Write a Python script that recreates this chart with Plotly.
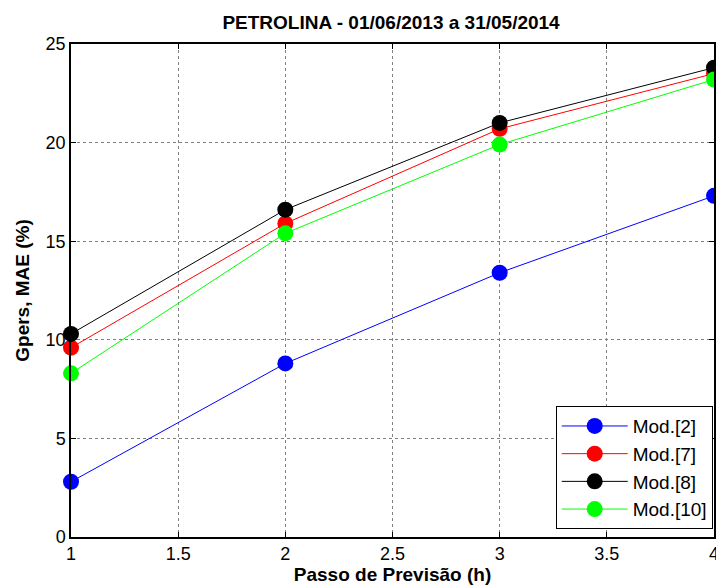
import plotly.graph_objects as go

# Forecast step (h)
passo = [1, 2, 3, 4]

# MAE (%) per model
mod2 = [2.8, 8.8, 13.4, 17.3]
mod7 = [9.6, 15.9, 20.7, 23.5]
mod8 = [10.3, 16.6, 21.0, 23.8]
mod10 = [8.3, 15.4, 19.9, 23.2]

series = [
    ("Mod.[2]", mod2, "#0000ff"),
    ("Mod.[7]", mod7, "#ff0000"),
    ("Mod.[8]", mod8, "#000000"),
    ("Mod.[10]", mod10, "#00ff00"),
]

fig = go.Figure()
for name, vals, color in series:
    fig.add_trace(go.Scatter(
        x=passo, y=vals, name=name, mode="lines+markers",
        line=dict(color=color, width=1),
        marker=dict(color=color, size=16),
        cliponaxis=False,
    ))

axis_style = dict(
    showline=True, mirror="ticks", linecolor="black", linewidth=1.5,
    ticks="inside", ticklen=5, tickcolor="black",
    showgrid=True, gridcolor="#808080", griddash="dot", gridwidth=1,
    zeroline=False, tickfont=dict(size=18, color="black"),
    automargin=False,
)

# page body has an 8px margin, so the figure is a bit smaller than the window
fig.update_layout(
    width=716, height=578,
    margin=dict(l=63, r=10, t=36, b=49),
    paper_bgcolor="white", plot_bgcolor="white",
    font=dict(family="Liberation Sans, Arial, sans-serif", color="black"),
    title=dict(text="<b>PETROLINA - 01/06/2013 a 31/05/2014</b>",
               x=0.535, xanchor="center", y=0.976, yanchor="middle",
               font=dict(size=19)),
    xaxis=dict(range=[1, 4], dtick=0.5,
               title=dict(text="<b>Passo de Previsão (h)</b>", standoff=3,
                          font=dict(size=19)),
               **axis_style),
    yaxis=dict(range=[0, 25], dtick=5,
               title=dict(text="<b>Gpers, MAE (%)</b>", standoff=11,
                          font=dict(size=19)),
               **axis_style),
    legend=dict(x=0.998, y=0.016, xanchor="right", yanchor="bottom",
                bgcolor="white", bordercolor="black", borderwidth=1,
                font=dict(size=19), itemwidth=66),
)

fig.write_html("out.html")
